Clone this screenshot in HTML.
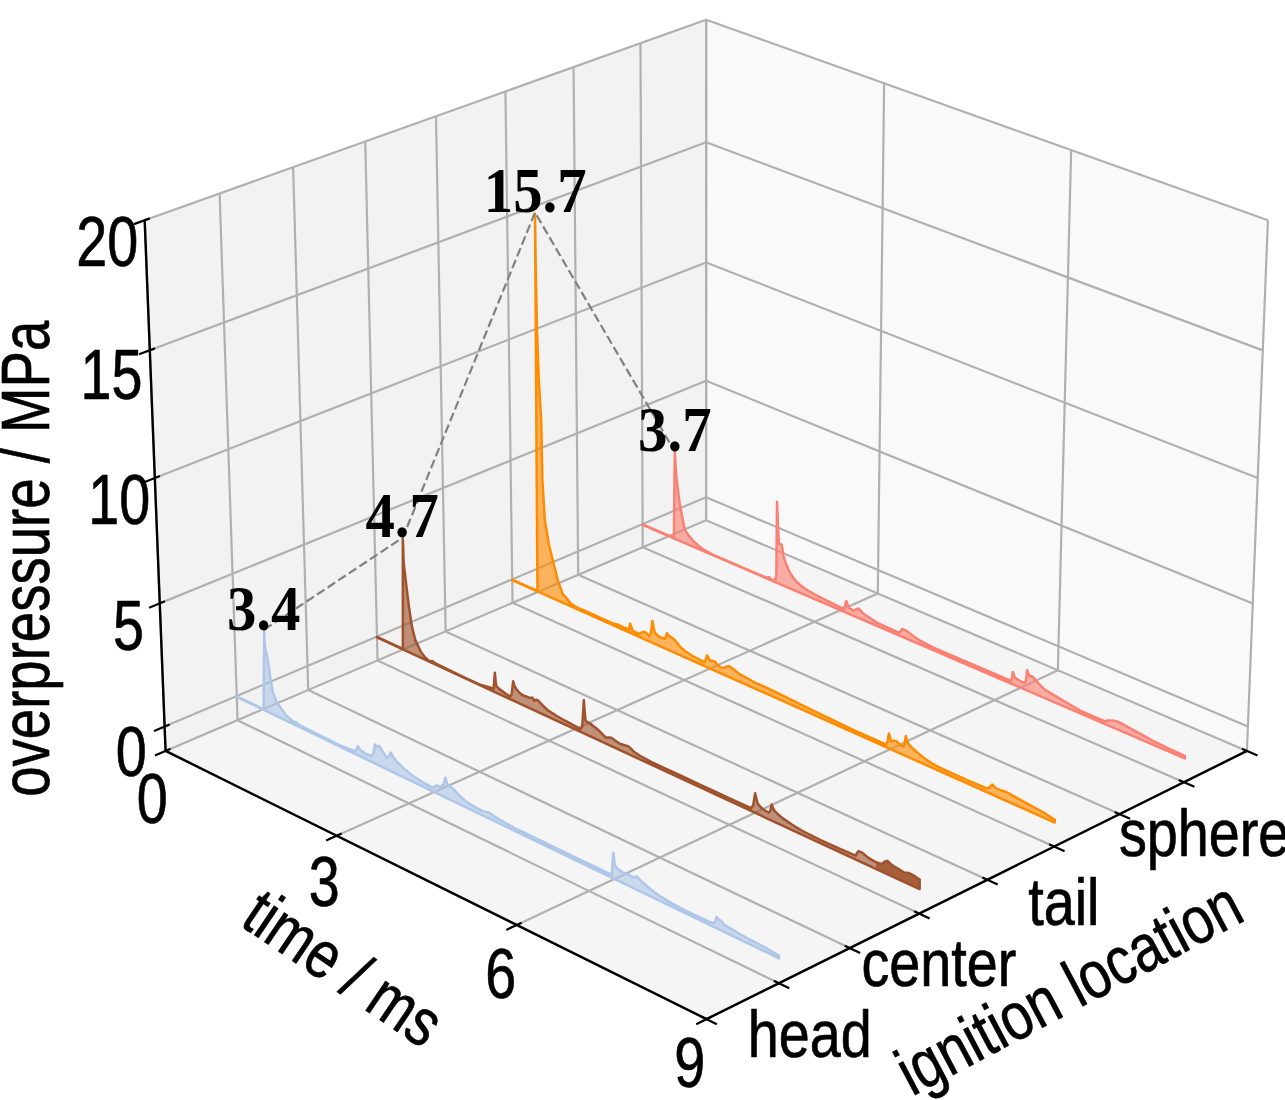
<!DOCTYPE html>
<html><head><meta charset="utf-8"><title>overpressure vs time by ignition location</title>
<style>
html,body{margin:0;padding:0;background:#fff;}
body{width:1285px;height:1100px;overflow:hidden;}
svg{display:block;}
text{font-family:"Liberation Sans",Arial,sans-serif;fill:#000;stroke:#000;stroke-width:0.7px;stroke-linejoin:round;}
.b{font-family:"Liberation Serif","Times New Roman",serif;font-weight:bold;stroke:none;}
</style></head><body>
<svg width="1285" height="1100" viewBox="0 0 1285 1100">
<polygon points="165.57,750.9 706.11,520.24 706.15,19.76 144.68,220.23" fill="#f2f2f2"/>
<polygon points="706.11,520.24 1246.95,750.92 1267.93,220.32 706.15,19.76" fill="#f9f9f9"/>
<polygon points="165.57,750.9 706.52,1019.11 1246.95,750.92 706.11,520.24" fill="#f5f5f5"/>
<g fill="none" stroke="#b0b0b0" stroke-width="2.2" stroke-linejoin="round">
<polyline points="165.57,750.9 706.11,520.24 706.15,19.76"/>
<polyline points="336.62,835.71 877.79,593.46 884.15,83.31"/>
<polyline points="516.69,924.99 1057.86,670.27 1071.17,150.08"/>
<polyline points="706.52,1019.11 1246.95,750.92 1267.93,220.32"/>
<polyline points="706.52,1019.11 165.57,750.9 144.68,220.23"/>
<polyline points="778.83,983.22 237.55,720.19 219.62,193.47"/>
<polyline points="849.71,948.05 308.2,690.04 293.12,167.23"/>
<polyline points="919.18,913.58 377.55,660.45 365.23,141.48"/>
<polyline points="987.3,879.77 445.65,631.39 435.98,116.22"/>
<polyline points="1054.1,846.62 512.52,602.85 505.41,91.43"/>
<polyline points="1119.61,814.11 578.2,574.82 573.56,67.1"/>
<polyline points="1183.89,782.22 642.72,547.29 640.46,43.21"/>
<polyline points="1246.95,750.92 706.11,520.24 706.15,19.76"/>
<polyline points="164.61,726.53 706.12,497.19 1247.91,726.55"/>
<polyline points="159.76,603.36 706.12,380.82 1252.78,603.4"/>
<polyline points="154.83,477.96 706.13,262.49 1257.74,478.02"/>
<polyline points="149.8,350.27 706.14,142.16 1262.79,350.35"/>
<polyline points="144.68,220.23 706.15,19.76 1267.93,220.32"/>
</g>
<polygon points="642.62,524.42 673.94,537.91 674.8,452.78 676.4,477.7 679.2,500.1 682,515.8 684.7,529.6 688.75,535.66 693.45,541.26 698.15,545.46 703.75,549.66 712.15,554.36 721.45,558.38 735.46,564.42 741.56,567.04 765.77,577.48 767.26,578.12 768.55,576.96 769.95,578.46 771.35,579.86 775.57,579.57 776.35,575.26 777.05,501.85 777.95,525.25 778.86,542.95 781.66,544.85 782.56,550.25 783.56,556.05 785.76,562.95 788.26,569.15 790.96,574.25 793.86,578.45 797.46,582.55 801.26,585.95 808.46,590.95 816.26,595.25 834.96,604.65 843.36,608.75 844.96,606.25 846.26,600.95 847.66,604.75 848.86,607.95 851.26,609.25 853.96,610.75 856.26,609.25 858.26,608.45 860.76,610.75 863.46,613.75 869.46,617.75 876.86,622.55 895.49,631.2 899.28,632.83 900.76,631.24 902.06,629.04 904.46,629.84 906.66,630.94 911.96,635.04 917.86,639.34 932.87,647.29 951.58,655.34 970.18,663.35 988.88,671.41 1007.58,679.46 1010.98,680.92 1011.97,677.23 1012.77,672.03 1013.87,675.03 1015.07,677.63 1017.77,679.53 1020.67,681.33 1025.27,682.83 1026.27,678.23 1027.17,670.13 1028.37,673.23 1029.57,675.73 1032.77,676.73 1035.07,679.43 1037.47,682.33 1040.97,685.93 1044.97,689.73 1054.27,695.33 1063.58,700.93 1081.49,711.27 1095.52,717.31 1103.93,720.94 1105.48,721.22 1107.38,720.42 1111.98,720.52 1116.48,721.12 1119.98,722.72 1123.48,724.62 1137.58,732.32 1151.58,740.02 1165.58,747.02 1184.84,755.77 1184.75,758.47 642.62,524.88" fill="#fa8072" fill-opacity="0.62" stroke="none"/>
<polygon points="642.62,524.42 673.94,537.91 674.8,452.78 676.4,477.7 679.2,500.1 682,515.8 684.7,529.6 688.75,535.66 693.45,541.26 698.15,545.46 703.75,549.66 712.15,554.36 721.45,558.38 735.46,564.42 741.56,567.04 765.77,577.48 767.26,578.12 768.55,576.96 769.95,578.46 771.35,579.86 775.57,579.57 776.35,575.26 777.05,501.85 777.95,525.25 778.86,542.95 781.66,544.85 782.56,550.25 783.56,556.05 785.76,562.95 788.26,569.15 790.96,574.25 793.86,578.45 797.46,582.55 801.26,585.95 808.46,590.95 816.26,595.25 834.96,604.65 843.36,608.75 844.96,606.25 846.26,600.95 847.66,604.75 848.86,607.95 851.26,609.25 853.96,610.75 856.26,609.25 858.26,608.45 860.76,610.75 863.46,613.75 869.46,617.75 876.86,622.55 895.49,631.2 899.28,632.83 900.76,631.24 902.06,629.04 904.46,629.84 906.66,630.94 911.96,635.04 917.86,639.34 932.87,647.29 951.58,655.34 970.18,663.35 988.88,671.41 1007.58,679.46 1010.98,680.92 1011.97,677.23 1012.77,672.03 1013.87,675.03 1015.07,677.63 1017.77,679.53 1020.67,681.33 1025.27,682.83 1026.27,678.23 1027.17,670.13 1028.37,673.23 1029.57,675.73 1032.77,676.73 1035.07,679.43 1037.47,682.33 1040.97,685.93 1044.97,689.73 1054.27,695.33 1063.58,700.93 1081.49,711.27 1095.52,717.31 1103.93,720.94 1105.48,721.22 1107.38,720.42 1111.98,720.52 1116.48,721.12 1119.98,722.72 1123.48,724.62 1137.58,732.32 1151.58,740.02 1165.58,747.02 1184.84,755.77 1184.75,758.47 642.62,524.88" fill="none" stroke="#fa8072" stroke-width="2.5" stroke-linejoin="round"/>
<polygon points="512.19,579.65 537.46,590.94 535.01,213.75 535.6,260.38 537,330.3 538.8,380.3 541.2,420.3 542.4,480.3 544.8,520.3 548.8,544.3 552.8,560.3 557.8,580.3 562.8,594.3 565.94,597.65 570.94,603.65 576.54,607.35 584.44,610.75 599.44,617.45 613.74,623.85 616.54,624.13 619.32,625.37 627.72,629.12 629.04,629.71 630.14,623.54 631.44,627.24 632.74,630.84 635.45,632.24 638.95,633.84 641.95,632.44 644.55,631.64 646.95,633.74 649.25,636.24 650.95,633.24 652.35,620.94 653.65,627.74 654.85,632.84 657.45,635.24 660.45,637.54 665.05,638.74 666.05,636.24 666.95,633.14 668.25,635.04 669.75,636.44 671.95,637.74 674.45,639.64 676.75,642.44 679.15,645.64 682.45,649.04 686.55,652.14 690.95,655.04 695.95,657.74 704.35,662.04 705.85,659.24 707.15,655.34 708.45,658.24 709.95,660.54 712.25,660.74 714.55,661.44 717.25,664.44 720.15,667.14 723.95,668.03 726.25,666.73 728.55,666.13 730.75,667.23 733.25,668.93 738.85,673.63 753.85,682.03 766.85,687.83 776.26,692.33 794.96,701.63 813.56,710.93 829.46,718.42 849.46,728.02 869.47,737.04 885.78,744.32 887.46,742.22 888.96,733.52 890.16,738.22 891.36,741.62 893.46,740.72 896.06,741.02 898.46,743.22 900.66,745.32 903.46,746.52 904.66,743.22 905.76,736.01 907.16,740.71 908.76,744.41 912.46,748.21 916.57,751.81 923.47,757.71 931.57,763.01 940.47,768.01 950.17,772.41 968.87,780.81 987.57,788.61 989.97,786.71 992.27,784.51 993.97,786.21 995.97,788.31 1000.47,790.11 1006.27,792.01 1024.97,802.3 1043.57,812.5 1054.81,819.78 1054.74,822.52 512.19,580.12" fill="#ff8c00" fill-opacity="0.62" stroke="none"/>
<polygon points="512.19,579.65 537.46,590.94 535.01,213.75 535.6,260.38 537,330.3 538.8,380.3 541.2,420.3 542.4,480.3 544.8,520.3 548.8,544.3 552.8,560.3 557.8,580.3 562.8,594.3 565.94,597.65 570.94,603.65 576.54,607.35 584.44,610.75 599.44,617.45 613.74,623.85 616.54,624.13 619.32,625.37 627.72,629.12 629.04,629.71 630.14,623.54 631.44,627.24 632.74,630.84 635.45,632.24 638.95,633.84 641.95,632.44 644.55,631.64 646.95,633.74 649.25,636.24 650.95,633.24 652.35,620.94 653.65,627.74 654.85,632.84 657.45,635.24 660.45,637.54 665.05,638.74 666.05,636.24 666.95,633.14 668.25,635.04 669.75,636.44 671.95,637.74 674.45,639.64 676.75,642.44 679.15,645.64 682.45,649.04 686.55,652.14 690.95,655.04 695.95,657.74 704.35,662.04 705.85,659.24 707.15,655.34 708.45,658.24 709.95,660.54 712.25,660.74 714.55,661.44 717.25,664.44 720.15,667.14 723.95,668.03 726.25,666.73 728.55,666.13 730.75,667.23 733.25,668.93 738.85,673.63 753.85,682.03 766.85,687.83 776.26,692.33 794.96,701.63 813.56,710.93 829.46,718.42 849.46,728.02 869.47,737.04 885.78,744.32 887.46,742.22 888.96,733.52 890.16,738.22 891.36,741.62 893.46,740.72 896.06,741.02 898.46,743.22 900.66,745.32 903.46,746.52 904.66,743.22 905.76,736.01 907.16,740.71 908.76,744.41 912.46,748.21 916.57,751.81 923.47,757.71 931.57,763.01 940.47,768.01 950.17,772.41 968.87,780.81 987.57,788.61 989.97,786.71 992.27,784.51 993.97,786.21 995.97,788.31 1000.47,790.11 1006.27,792.01 1024.97,802.3 1043.57,812.5 1054.81,819.78 1054.74,822.52 512.19,580.12" fill="none" stroke="#ff8c00" stroke-width="2.5" stroke-linejoin="round"/>
<polygon points="376.97,636.91 402.89,648.93 402.83,538.82 403.7,563.1 406.7,588.8 409.3,609.3 411.9,626.4 415.3,640.1 421.03,652.04 424.93,657.24 429.63,661.33 432.23,660.94 434.93,663.24 462.12,676.41 479.41,684.43 492.18,688.18 493.63,688.86 494.84,672.73 495.74,682.23 496.54,686.43 498.94,688.63 501.74,690.73 505.94,693.93 510.23,696.55 511.74,694.23 513.14,681.33 514.44,685.73 516.24,689.03 518.94,692.23 522.24,695.03 525.44,696.23 529.04,697.63 532.54,697.63 534.24,701.03 535.94,699.73 537.64,700.13 542.44,705.23 547.94,710.43 556.44,715.72 565.04,720.72 572.44,724.72 580.44,729.1 582.24,726.72 583.84,700.12 584.74,712.22 585.54,720.72 587.94,722.22 590.74,724.12 594.94,727.22 599.24,730.92 602.44,734.22 606.14,737.82 608.44,737.42 611.24,737.82 615.44,740.72 619.84,743.82 623.94,744.92 628.44,746.32 630.94,748.72 633.54,751.52 641.45,756.72 650.65,761.64 667.74,769.56 681.45,775.92 699.45,784.26 719.45,793.53 739.45,802.8 751.06,808.18 753.25,805.2 755.15,793.2 756.45,799.2 757.65,803.4 760.45,807 764.15,810 768.85,812.8 770.45,810.2 771.65,804.4 772.95,808 774.46,810.9 778.46,814.7 782.86,818.4 791.46,824.2 801.56,830.5 820.16,839.9 838.86,848.3 855.66,855.69 856.96,853.19 858.46,851.09 862.26,852.59 866.86,856.69 871.46,859.59 876.26,862.29 876.29,862.31 881.86,864.09 884.46,861.69 887.46,860.79 890.46,863.69 894.86,866.89 899.46,869.69 904.26,872.49 908.47,872.99 913.57,875.29 916.97,877.69 919.73,879.48 919.58,889.11 376.99,637.39" fill="#a0522d" fill-opacity="0.62" stroke="none"/>
<polygon points="876.29,862.31 881.86,864.09 884.46,861.69 887.46,860.79 890.46,863.69 894.86,866.89 899.46,869.69 904.26,872.49 908.47,872.99 913.57,875.29 916.97,877.69 919.73,879.48 919.58,889.11 876.21,868.98" fill="#a0522d" fill-opacity="0.8"/>
<polygon points="376.97,636.91 402.89,648.93 402.83,538.82 403.7,563.1 406.7,588.8 409.3,609.3 411.9,626.4 415.3,640.1 421.03,652.04 424.93,657.24 429.63,661.33 432.23,660.94 434.93,663.24 462.12,676.41 479.41,684.43 492.18,688.18 493.63,688.86 494.84,672.73 495.74,682.23 496.54,686.43 498.94,688.63 501.74,690.73 505.94,693.93 510.23,696.55 511.74,694.23 513.14,681.33 514.44,685.73 516.24,689.03 518.94,692.23 522.24,695.03 525.44,696.23 529.04,697.63 532.54,697.63 534.24,701.03 535.94,699.73 537.64,700.13 542.44,705.23 547.94,710.43 556.44,715.72 565.04,720.72 572.44,724.72 580.44,729.1 582.24,726.72 583.84,700.12 584.74,712.22 585.54,720.72 587.94,722.22 590.74,724.12 594.94,727.22 599.24,730.92 602.44,734.22 606.14,737.82 608.44,737.42 611.24,737.82 615.44,740.72 619.84,743.82 623.94,744.92 628.44,746.32 630.94,748.72 633.54,751.52 641.45,756.72 650.65,761.64 667.74,769.56 681.45,775.92 699.45,784.26 719.45,793.53 739.45,802.8 751.06,808.18 753.25,805.2 755.15,793.2 756.45,799.2 757.65,803.4 760.45,807 764.15,810 768.85,812.8 770.45,810.2 771.65,804.4 772.95,808 774.46,810.9 778.46,814.7 782.86,818.4 791.46,824.2 801.56,830.5 820.16,839.9 838.86,848.3 855.66,855.69 856.96,853.19 858.46,851.09 862.26,852.59 866.86,856.69 871.46,859.59 876.26,862.29 876.29,862.31 881.86,864.09 884.46,861.69 887.46,860.79 890.46,863.69 894.86,866.89 899.46,869.69 904.26,872.49 908.47,872.99 913.57,875.29 916.97,877.69 919.73,879.48 919.58,889.11 376.99,637.39" fill="none" stroke="#a0522d" stroke-width="2.5" stroke-linejoin="round"/>
<polygon points="236.71,696.31 263.58,709.27 264.24,630.83 264.73,645.46 267.7,659.3 270.3,677.3 272.8,692.1 276.3,701.3 280.82,708.22 286.42,715.72 293.02,721.52 296.32,722.32 298.92,724.82 319.42,735.22 339.42,745.22 355.39,751.37 357.73,746.02 359.93,749.72 366.73,754.22 370.83,755.91 373.23,754.21 374.93,744.41 376.83,746.91 379.03,745.71 382.43,751.21 386.33,757.51 388.93,756.21 390.73,752.61 392.93,756.71 396.53,761.31 405.13,769.81 413.43,776.21 422.23,781.81 432.53,787.81 436.83,785.31 440.23,787.01 443.63,784.41 445.33,777.6 447.03,783.51 449.43,786.21 453.03,788.71 458.43,794.7 465.03,800.7 473.43,806.2 482.13,810.9 489.03,812.7 493.43,815.7 499.23,819.5 516.42,828.99 550.62,845.47 579.42,859.35 599.42,869 611.73,874.93 613.34,852.69 614.74,864.69 616.44,867.69 618.84,869.79 623.44,872.69 629.04,874.99 634.24,877.59 636.84,876.39 638.95,878.69 641.05,880.99 647.95,886.98 654.45,892.18 661.65,897.18 671.45,903.18 682.15,908.87 694.45,914.8 707.85,921.18 713.85,923.08 715.25,921.68 716.45,916.88 717.75,918.58 718.95,919.68 721.55,921.18 724.95,925.48 728.35,927.18 739.45,933.78 750.65,939.97 764.45,947.17 778.99,955.55 778.97,958.38 236.73,696.79" fill="#aec7e8" fill-opacity="0.62" stroke="none"/>
<polygon points="236.71,696.31 263.58,709.27 264.24,630.83 264.73,645.46 267.7,659.3 270.3,677.3 272.8,692.1 276.3,701.3 280.82,708.22 286.42,715.72 293.02,721.52 296.32,722.32 298.92,724.82 319.42,735.22 339.42,745.22 355.39,751.37 357.73,746.02 359.93,749.72 366.73,754.22 370.83,755.91 373.23,754.21 374.93,744.41 376.83,746.91 379.03,745.71 382.43,751.21 386.33,757.51 388.93,756.21 390.73,752.61 392.93,756.71 396.53,761.31 405.13,769.81 413.43,776.21 422.23,781.81 432.53,787.81 436.83,785.31 440.23,787.01 443.63,784.41 445.33,777.6 447.03,783.51 449.43,786.21 453.03,788.71 458.43,794.7 465.03,800.7 473.43,806.2 482.13,810.9 489.03,812.7 493.43,815.7 499.23,819.5 516.42,828.99 550.62,845.47 579.42,859.35 599.42,869 611.73,874.93 613.34,852.69 614.74,864.69 616.44,867.69 618.84,869.79 623.44,872.69 629.04,874.99 634.24,877.59 636.84,876.39 638.95,878.69 641.05,880.99 647.95,886.98 654.45,892.18 661.65,897.18 671.45,903.18 682.15,908.87 694.45,914.8 707.85,921.18 713.85,923.08 715.25,921.68 716.45,916.88 717.75,918.58 718.95,919.68 721.55,921.18 724.95,925.48 728.35,927.18 739.45,933.78 750.65,939.97 764.45,947.17 778.99,955.55 778.97,958.38 236.73,696.79" fill="none" stroke="#aec7e8" stroke-width="2.5" stroke-linejoin="round"/>
<polyline points="264.2,629.6 402.8,537.6 535,212.5 674.8,451.6" fill="none" stroke="#808080" stroke-width="2.2" stroke-dasharray="8.9,3.8"/>
<g fill="none" stroke="#000" stroke-width="2.4" stroke-linecap="butt">
<polyline points="144.68,220.23 165.57,750.9"/>
<polyline points="165.57,750.9 706.52,1019.11"/>
<polyline points="706.52,1019.11 1246.95,750.92"/>
</g>
<g stroke="#000" stroke-width="2.2">
<line x1="155" y1="755.42" x2="170.63" y2="748.75"/>
<line x1="326.13" y1="840.41" x2="341.64" y2="833.47"/>
<line x1="506.29" y1="929.89" x2="521.67" y2="922.65"/>
<line x1="696.21" y1="1024.22" x2="711.44" y2="1016.67"/>
<line x1="716.82" y1="1024.22" x2="701.59" y2="1016.67"/>
<line x1="789.18" y1="988.25" x2="773.89" y2="980.82"/>
<line x1="860.09" y1="953" x2="844.74" y2="945.69"/>
<line x1="929.6" y1="918.44" x2="914.2" y2="911.25"/>
<line x1="997.75" y1="884.57" x2="982.3" y2="877.48"/>
<line x1="1064.58" y1="851.34" x2="1049.08" y2="844.37"/>
<line x1="1130.13" y1="818.76" x2="1114.58" y2="811.89"/>
<line x1="1194.44" y1="786.8" x2="1178.84" y2="780.03"/>
<line x1="1257.53" y1="755.43" x2="1241.89" y2="748.76"/>
<line x1="154.03" y1="731.02" x2="169.68" y2="724.39"/>
<line x1="149.11" y1="607.7" x2="164.86" y2="601.29"/>
<line x1="144.12" y1="482.15" x2="159.95" y2="475.96"/>
<line x1="139.03" y1="354.3" x2="154.95" y2="348.35"/>
<line x1="133.85" y1="224.09" x2="149.86" y2="218.38"/>
</g>
<text transform="translate(76.25,266.25) scale(0.79,1)" font-size="70.5">20</text>
<text transform="translate(80.5,399.3) scale(0.79,1)" font-size="70.5">15</text>
<text transform="translate(88.25,524.1) scale(0.79,1)" font-size="70.5">10</text>
<text transform="translate(113.1,649.6) scale(0.79,1)" font-size="70.5">5</text>
<text transform="translate(115.65,775.6) scale(0.79,1)" font-size="70.5">0</text>
<text transform="translate(136.65,822.65) scale(0.79,1)" font-size="70.5">0</text>
<text transform="translate(308.8,906.25) scale(0.79,1)" font-size="70.5">3</text>
<text transform="translate(485.35,998.3) scale(0.79,1)" font-size="70.5">6</text>
<text transform="translate(674.3,1086.9) scale(0.79,1)" font-size="70.5">9</text>
<text transform="translate(747.65,1056.75) scale(0.845,1)" font-size="66">head</text>
<text transform="translate(861.45,986.15) scale(0.845,1)" font-size="66">center</text>
<text transform="translate(1028.15,925.15) scale(0.845,1)" font-size="66">tail</text>
<text class="b" transform="translate(226.95,629.75) scale(0.933,1)" font-size="63">3.4</text>
<text class="b" transform="translate(365.4,536.75) scale(0.933,1)" font-size="63">4.7</text>
<text class="b" transform="translate(483.75,212.05) scale(0.933,1)" font-size="63">15.7</text>
<text class="b" transform="translate(638.1,450.95) scale(0.933,1)" font-size="63">3.7</text>
<text transform="translate(1118.9,855.9) scale(0.845,1)" font-size="66">sphere</text>
<text transform="translate(48.6,796.8) rotate(-90) scale(0.8025,1)" font-size="68">overpressure / MPa</text>
<text transform="translate(238.6,924.4) rotate(34.1) scale(0.82,1)" font-size="67">time / ms</text>
<text transform="translate(912,1096.8) rotate(-27.9) scale(0.821,1)" font-size="67">ignition location</text>
</svg>
</body></html>
